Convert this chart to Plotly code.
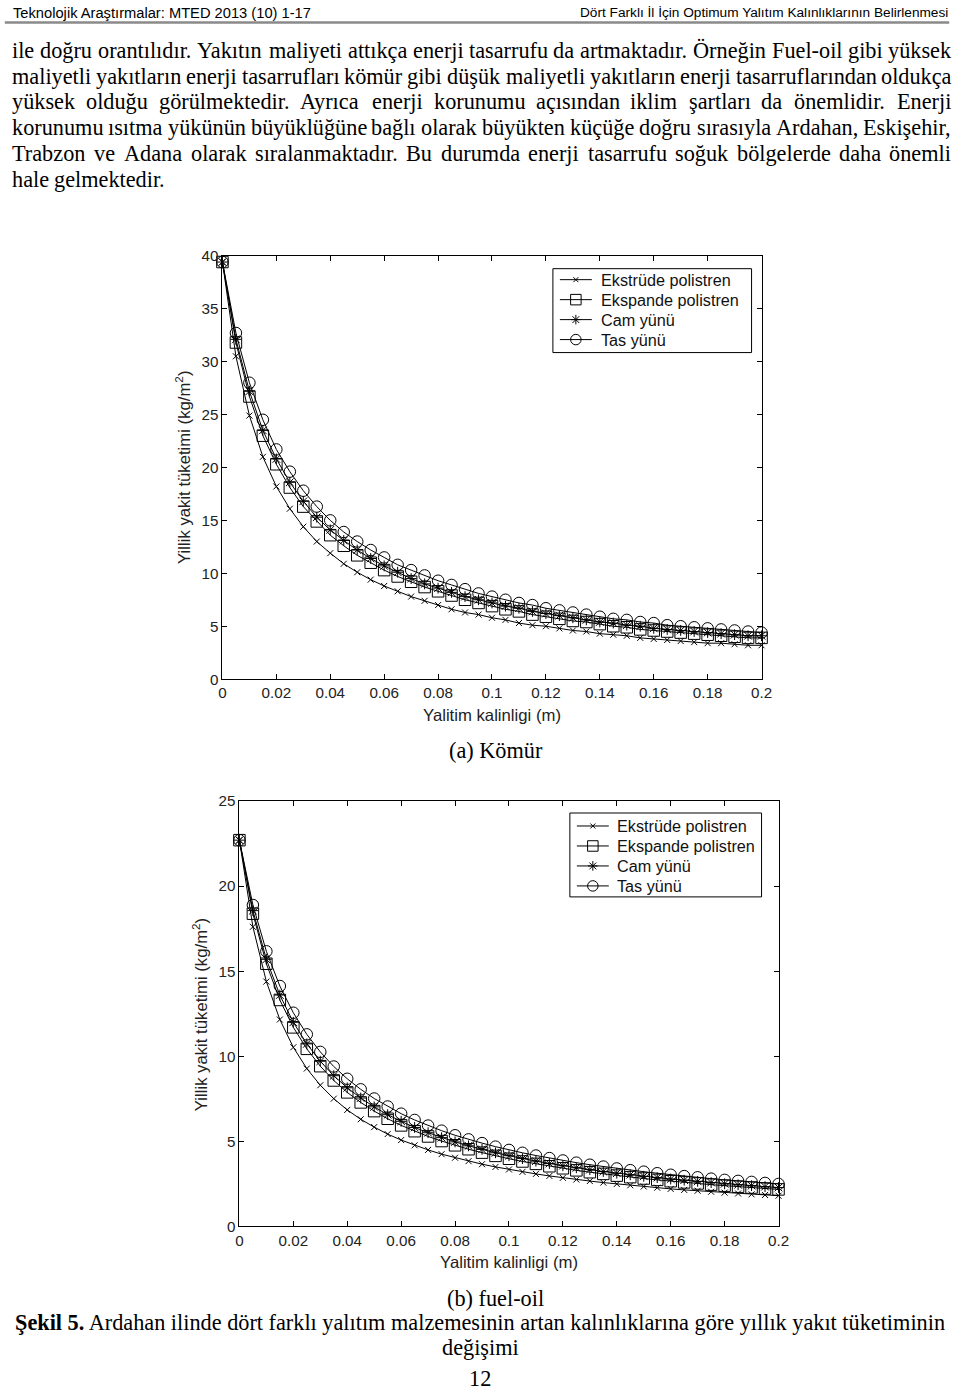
import plotly.graph_objects as go

W, H = 960, 1391

# ---------------- data ----------------
x_thickness = [0.0, 0.005, 0.01, 0.015, 0.02, 0.025, 0.03, 0.035, 0.04, 0.045,
               0.05, 0.055, 0.06, 0.065, 0.07, 0.075, 0.08, 0.085, 0.09, 0.095,
               0.1, 0.105, 0.11, 0.115, 0.12, 0.125, 0.13, 0.135, 0.14, 0.145,
               0.15, 0.155, 0.16, 0.165, 0.17, 0.175, 0.18, 0.185, 0.19, 0.195, 0.2]

series_names = ["Ekstrüde polistren", "Ekspande polistren", "Cam yünü", "Tas yünü"]

# (a) Kömür
komur_ekstrude = [39.4, 30.5, 24.9, 21.0, 18.2, 16.1, 14.4, 13.0, 11.9, 10.9,
                  10.1, 9.4, 8.8, 8.3, 7.8, 7.4, 7.0, 6.6, 6.3, 6.1,
                  5.8, 5.6, 5.3, 5.1, 5.0, 4.8, 4.6, 4.5, 4.3, 4.2,
                  4.1, 3.9, 3.8, 3.7, 3.6, 3.5, 3.4, 3.4, 3.3, 3.2, 3.2]
komur_ekspande = [39.4, 31.8, 26.7, 23.0, 20.3, 18.1, 16.3, 14.9, 13.6, 12.6,
                  11.7, 11.0, 10.3, 9.7, 9.2, 8.7, 8.3, 7.9, 7.5, 7.2,
                  6.9, 6.6, 6.4, 6.1, 5.9, 5.7, 5.5, 5.4, 5.2, 5.0,
                  4.9, 4.7, 4.6, 4.5, 4.4, 4.3, 4.2, 4.1, 4.0, 3.9, 3.9]
komur_cam = [39.4, 32.1, 27.2, 23.5, 20.8, 18.6, 16.8, 15.3, 14.1, 13.1,
             12.2, 11.4, 10.7, 10.1, 9.5, 9.0, 8.6, 8.2, 7.8, 7.5,
             7.2, 6.9, 6.7, 6.4, 6.2, 6.0, 5.8, 5.6, 5.4, 5.3,
             5.1, 5.0, 4.8, 4.7, 4.6, 4.5, 4.4, 4.3, 4.2, 4.1, 4.1]
komur_tas = [39.4, 32.7, 28.0, 24.5, 21.7, 19.6, 17.8, 16.3, 15.0, 13.9,
             13.0, 12.2, 11.5, 10.8, 10.3, 9.8, 9.3, 8.9, 8.5, 8.1,
             7.8, 7.5, 7.2, 7.0, 6.7, 6.5, 6.3, 6.1, 5.9, 5.7,
             5.6, 5.4, 5.3, 5.1, 5.0, 4.9, 4.8, 4.7, 4.6, 4.5, 4.4]

# (b) fuel-oil
fuel_ekstrude = [22.7, 17.61, 14.39, 12.16, 10.53, 9.28, 8.30, 7.51, 6.85, 6.30,
                 5.84, 5.43, 5.08, 4.77, 4.50, 4.25, 4.04, 3.84, 3.66, 3.50,
                 3.35, 3.21, 3.09, 2.97, 2.86, 2.76, 2.67, 2.58, 2.50, 2.42,
                 2.35, 2.28, 2.21, 2.15, 2.10, 2.04, 1.99, 1.94, 1.89, 1.85, 1.81]
fuel_ekspande = [22.7, 18.38, 15.44, 13.31, 11.70, 10.44, 9.42, 8.58, 7.88, 7.29,
                 6.78, 6.33, 5.94, 5.60, 5.29, 5.02, 4.77, 4.54, 4.34, 4.15,
                 3.98, 3.82, 3.68, 3.54, 3.42, 3.30, 3.19, 3.09, 2.99, 2.90,
                 2.82, 2.74, 2.66, 2.59, 2.53, 2.46, 2.40, 2.34, 2.29, 2.23, 2.18]
fuel_cam = [22.7, 18.56, 15.70, 13.60, 12.00, 10.73, 9.71, 8.86, 8.15, 7.55,
            7.03, 6.57, 6.18, 5.82, 5.51, 5.22, 4.97, 4.74, 4.53, 4.33,
            4.16, 3.99, 3.84, 3.70, 3.57, 3.45, 3.34, 3.23, 3.13, 3.04,
            2.95, 2.87, 2.79, 2.72, 2.65, 2.58, 2.51, 2.45, 2.40, 2.34, 2.29]
fuel_tas = [22.7, 18.89, 16.17, 14.13, 12.56, 11.29, 10.26, 9.40, 8.68, 8.06,
            7.52, 7.05, 6.63, 6.26, 5.93, 5.63, 5.36, 5.12, 4.90, 4.69,
            4.50, 4.33, 4.17, 4.02, 3.88, 3.75, 3.63, 3.52, 3.41, 3.31,
            3.22, 3.13, 3.04, 2.96, 2.89, 2.81, 2.74, 2.68, 2.62, 2.56, 2.50]

x_tickvals = [0, 0.02, 0.04, 0.06, 0.08, 0.1, 0.12, 0.14, 0.16, 0.18, 0.2]
x_ticktext = ["0", "0.02", "0.04", "0.06", "0.08", "0.1", "0.12", "0.14", "0.16", "0.18", "0.2"]
y1_tickvals = [0, 5, 10, 15, 20, 25, 30, 35, 40]
y2_tickvals = [0, 5, 10, 15, 20, 25]

x_title = "Yalitim kalinligi (m)"
y_title = "Yillik yakit tüketimi (kg/m<sup>2</sup>)"

header_left = "Teknolojik Araştırmalar: MTED 2013 (10) 1-17"
header_right = "Dört Farklı İl İçin Optimum Yalıtım Kalınlıklarının Belirlenmesi"
body_lines = [
    "ile doğru orantılıdır. Yakıtın maliyeti attıkça enerji tasarrufu da artmaktadır. Örneğin Fuel-oil gibi yüksek",
    "maliyetli yakıtların enerji tasarrufları kömür gibi düşük maliyetli yakıtların enerji tasarruflarından oldukça",
    "yüksek olduğu görülmektedir. Ayrıca enerji korunumu açısından iklim şartları da önemlidir. Enerji",
    "korunumu ısıtma yükünün büyüklüğüne bağlı olarak büyükten küçüğe doğru sırasıyla Ardahan, Eskişehir,",
    "Trabzon ve Adana olarak sıralanmaktadır. Bu durumda enerji tasarrufu soğuk bölgelerde daha önemli",
    "hale gelmektedir.",
]
caption_a = "(a) Kömür"
caption_b = "(b) fuel-oil"
caption_main = "<b>Şekil 5.</b> Ardahan ilinde dört farklı yalıtım malzemesinin artan kalınlıklarına göre yıllık yakıt tüketiminin"
caption_main2 = "değişimi"
page_number = "12"

# ---------------- layout helpers ----------------
# the captured picture comes out slightly shrunk/offset; pre-compensate
AX, SX = 3.2, 0.986
AY, SY = 8.0, 0.989
FS = 1 / 0.987

def ix(v):  # reference pixel -> figure pixel
    return (v - AX) / SX

def iy(v):
    return (v - AY) / SY

def px(v):
    return ix(v) / W

def py(v):
    return 1 - iy(v) / H

def fs(size):
    return size * FS

# Times New Roman advance widths (per 1000 em) for justification
TW = {' ': 250, '.': 250, ',': 250, '-': 333, ':': 278, '(': 333, ')': 333,
      'a': 444, 'b': 500, 'c': 444, 'd': 500, 'e': 444, 'f': 333, 'g': 500, 'h': 500,
      'i': 278, 'j': 278, 'k': 500, 'l': 278, 'm': 778, 'n': 500, 'o': 500, 'p': 500,
      'q': 500, 'r': 333, 's': 389, 't': 278, 'u': 500, 'v': 500, 'w': 722, 'x': 500,
      'y': 500, 'z': 444, 'ı': 278, 'ğ': 500, 'ş': 389, 'ç': 444, 'ö': 500, 'ü': 500,
      'A': 722, 'B': 667, 'C': 667, 'D': 722, 'E': 611, 'F': 556, 'G': 722, 'H': 722,
      'I': 333, 'J': 389, 'K': 722, 'L': 611, 'M': 889, 'N': 722, 'O': 722, 'P': 556,
      'R': 667, 'S': 556, 'T': 611, 'U': 722, 'V': 722, 'Y': 722, 'Z': 611,
      'Ö': 722, 'Ş': 556, 'İ': 333, 'Ü': 722, 'Ç': 667}

def word_w(word, size):
    return sum(TW.get(c, 500) for c in word) * size / 1000.0

fig = go.Figure()

styles = [
    dict(symbol="x-thin-open", size=6),
    dict(symbol="square-open", size=11.5),
    dict(symbol="asterisk-open", size=9),
    dict(symbol="circle-open", size=11.5),
]

for ys, xa, ya in [([komur_ekstrude, komur_ekspande, komur_cam, komur_tas], "x", "y"),
                   ([fuel_ekstrude, fuel_ekspande, fuel_cam, fuel_tas], "x2", "y2")]:
    for name, vals, st in zip(series_names, ys, styles):
        fig.add_trace(go.Scatter(
            x=x_thickness, y=vals, name=name, mode="lines+markers",
            line=dict(color="black", width=1),
            marker=dict(symbol=st["symbol"], size=st["size"], color="black",
                        line=dict(color="black", width=1)),
            xaxis=xa, yaxis=ya, showlegend=False, cliponaxis=False,
        ))

ann = []

def add_text(text, x, y, size, family, xanchor="left", angle=0, color="black"):
    ann.append(dict(text=text, x=px(x), y=py(y), xref="paper", yref="paper",
                    xanchor=xanchor, yanchor="middle", showarrow=False, borderpad=0,
                    textangle=angle, font=dict(family=family, size=fs(size), color=color)))

# ---- legend boxes (MATLAB style); sample markers on a hidden pixel-space overlay axis ----
legend_boxes = [  # (box x0, x1, y0, y1, sample x0, text x, first row y)
    (553, 752, 268, 352, 560, 600, 279),
    (570, 762, 813, 897, 577, 616, 826),
]
ROW_GAP = 20
SAMPLE_LEN = 32

for (bx0, bx1, by0, by1, sx0, tx, ry0) in legend_boxes:
    fig.add_shape(type="rect", xref="paper", yref="paper",
                  x0=px(bx0), x1=px(bx1), y0=py(by1), y1=py(by0),
                  line=dict(color="black", width=1), fillcolor="rgba(0,0,0,0)", layer="above")
    for k, (name, st) in enumerate(zip(series_names, styles)):
        ry = ry0 + k * ROW_GAP
        fig.add_shape(type="line", xref="paper", yref="paper",
                      x0=px(sx0), x1=px(sx0 + SAMPLE_LEN), y0=py(ry), y1=py(ry),
                      line=dict(color="black", width=1), layer="above")
        fig.add_trace(go.Scatter(
            x=[ix(sx0 + SAMPLE_LEN / 2)], y=[iy(ry)], mode="markers", showlegend=False,
            marker=dict(symbol=st["symbol"], size=st["size"] - 1, color="black",
                        line=dict(color="black", width=1)),
            xaxis="x3", yaxis="y3", hoverinfo="skip", cliponaxis=False))
        add_text(name, tx, ry, 16, "Liberation Sans", color="#111")

axis_common = dict(showline=True, linecolor="black", linewidth=1, mirror="ticks",
                   ticks="inside", ticklen=5, tickcolor="black", tickwidth=1,
                   showgrid=False, zeroline=False,
                   tickfont=dict(family="Liberation Sans", size=fs(15), color="#222"))

fig.update_layout(
    width=W, height=H, margin=dict(l=0, r=0, t=0, b=0),
    paper_bgcolor="white", plot_bgcolor="rgba(0,0,0,0)",
    showlegend=False,
    xaxis=dict(domain=[px(222), px(762)], range=[0, 0.2], anchor="y",
               tickvals=x_tickvals, ticktext=x_ticktext, **axis_common),
    yaxis=dict(domain=[py(679), py(255)], range=[0, 40], anchor="x",
               tickvals=y1_tickvals, **axis_common),
    xaxis2=dict(domain=[px(239), px(779)], range=[0, 0.2], anchor="y2",
                tickvals=x_tickvals, ticktext=x_ticktext, **axis_common),
    yaxis2=dict(domain=[py(1227), py(801)], range=[0, 25], anchor="x2",
                tickvals=y2_tickvals, **axis_common),
    xaxis3=dict(domain=[0, 1], range=[0, W], visible=False, anchor="y3", fixedrange=True),
    yaxis3=dict(domain=[0, 1], range=[H, 0], visible=False, anchor="x3", fixedrange=True),
)

# header
add_text(header_left, 11, 12, 14.5, "Liberation Sans")
add_text(header_right, 950, 12, 13.5, "Liberation Sans", xanchor="right")
fig.add_shape(type="line", xref="paper", yref="paper", x0=px(4), x1=px(950),
              y0=py(21.5), y1=py(21.5), line=dict(color="#8a8a8a", width=2.5))

# body text, justified
BODY_SIZE = 22
LEFT, RIGHT = 10, 950
line_y = [50, 76, 101, 127, 153, 179]
for i, (line, yy) in enumerate(zip(body_lines, line_y)):
    words = line.split(" ")
    widths = [word_w(w, BODY_SIZE) for w in words]
    if i < len(body_lines) - 1 and len(words) > 1:
        gap = (RIGHT - LEFT - sum(widths)) / (len(words) - 1)
    else:
        gap = TW[' '] * BODY_SIZE / 1000.0
    xx = LEFT
    for w, ww in zip(words, widths):
        add_text(w, xx, yy, BODY_SIZE, "Liberation Serif")
        xx += ww + gap

# axis titles
add_text(x_title, 492, 715, 16.5, "Liberation Sans", xanchor="center", color="#222")
add_text(y_title, 183, 467, 16.5, "Liberation Sans", xanchor="center", angle=-90, color="#222")
add_text(x_title, 509, 1263, 16.5, "Liberation Sans", xanchor="center", color="#222")
add_text(y_title, 199, 1015, 16.5, "Liberation Sans", xanchor="center", angle=-90, color="#222")

# captions
add_text(caption_a, 496, 750, 22, "Liberation Serif", xanchor="center")
add_text(caption_b, 496, 1299, 22, "Liberation Serif", xanchor="center")
add_text(caption_main, 480, 1323, 22, "Liberation Serif", xanchor="center")
add_text(caption_main2, 480, 1348, 22, "Liberation Serif", xanchor="center")
add_text(page_number, 480, 1379.5, 22, "Liberation Serif", xanchor="center")

fig.update_layout(annotations=ann)
fig.write_html("out.html", config={"displayModeBar": False},
               post_script="document.body.style.margin='0';document.documentElement.style.overflow='hidden';")
